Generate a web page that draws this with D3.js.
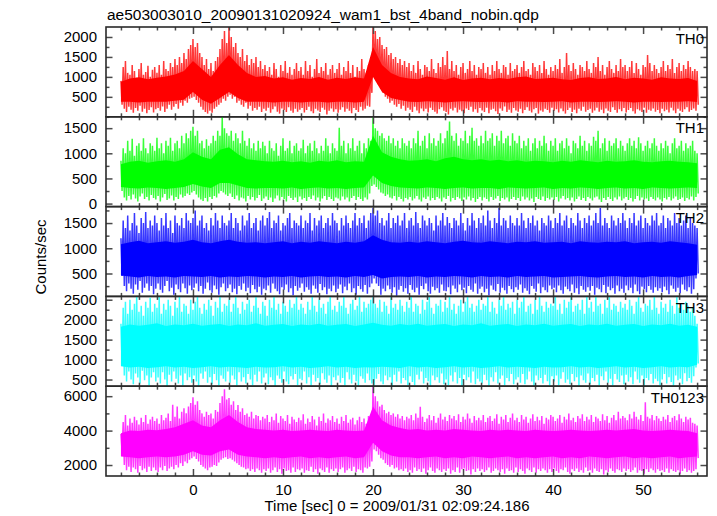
<!DOCTYPE html>
<html><head><meta charset="utf-8">
<script src="https://cdn.jsdelivr.net/npm/d3@7"></script>
<style>
body{margin:0;background:#fff}
svg{display:block}
text{font-family:"Liberation Sans",Arial,Helvetica,sans-serif;fill:#000}
</style>
</head><body>
<svg id="c" width="717" height="516"></svg>
<script>
// ---------------- DATA ----------------
const titleText = "ae503003010_20090131020924_wam1_bst_4band_nobin.qdp";
const xLabel = "Time [sec] 0 = 2009/01/31 02:09:24.186";
const yLabel = "Counts/sec";
const panelNames = ["TH0", "TH1", "TH2", "TH3", "TH0123"];
const panelColors = ["#ff0000", "#00ff00", "#0000ff", "#00ffff", "#ff00ff"];
const xTicks = [0, 10, 20, 30, 40, 50];
const ticksTH0 = [500, 1000, 1500, 2000];
const ticksTH1 = [0, 500, 1000, 1500];
const ticksTH2 = [500, 1000, 1500];
const ticksTH3 = [500, 1000, 1500, 2000, 2500];
const ticksTH0123 = [2000, 4000, 6000];

// upper / lower swing of the light curve, every 0.25 s from t = -8 s to 56 s (257 samples)
const sampleStart = -8, sampleStep = 0.25;
// dense core of the band, every 1 s from t = -8 s to 56 s (65 samples)
const coreStart = -8, coreStep = 1;

const hiTH0 = [
 900,1250,1400,1100,1050,1300,1150,980,1200,1350,1050,1120,1280,1000,1180,1250,
 1100,1300,1050,1400,1200,1150,1350,1250,1450,1300,1500,1350,1600,1450,1700,1800,
 1950,1750,1850,1600,1500,1300,1450,1200,1350,1150,1400,1500,1700,1950,2150,1850,
 2250,2000,1750,1850,1600,1500,1700,1400,1550,1300,1450,1350,1500,1250,1400,1200,
 1300,1150,1250,1050,1350,1200,1000,1300,1150,1400,1100,1250,1050,1200,1350,1150,
 1250,1050,1400,1150,1300,1000,1200,1450,1100,1250,1150,1350,1050,1200,1300,1100,
 1200,1350,1050,1250,1150,1400,1100,1300,1000,1250,1150,1450,1200,1100,1300,1250,
 2250,2150,1950,2000,1800,1700,1750,1550,1600,1450,1500,1350,1450,1300,1400,1250,
 1350,1150,1300,1100,1400,1200,1050,1300,1250,1150,1450,1200,1100,1350,1250,1500,
 1300,1650,1200,1400,1150,1300,1050,1250,1350,1100,1200,1400,1150,1300,1050,1250,
 1200,1350,1100,1250,1050,1300,1150,1400,1200,1100,1300,1250,1050,1350,1150,1200,
 1300,1100,1250,1400,1150,1200,1050,1350,1250,1150,1300,1100,1400,1200,1050,1250,
 1150,1300,1200,1450,1100,1250,1600,1300,1150,1350,1200,1050,1300,1250,1150,1400,
 1200,1100,1350,1250,1500,1150,1300,1050,1250,1400,1200,1100,1300,1150,1450,1250,
 1300,1150,1250,1400,1100,1350,1200,1050,1300,1250,1550,1350,1150,1300,1200,1100,
 1250,1400,1150,1300,1200,1450,1100,1250,1350,1150,1300,1200,1400,1250,1150,1200,
 1150];
const loTH0 = [
 300,200,120,250,180,100,220,150,280,130,200,90,170,240,110,190,
 220,150,260,120,200,300,180,250,320,200,350,280,400,350,450,480,
 500,420,350,250,180,120,80,150,100,200,250,300,350,450,400,500,
 550,450,500,350,400,300,250,350,200,280,150,220,180,250,120,200,
 150,230,100,190,260,130,80,210,170,120,240,150,100,200,130,180,
 220,110,170,250,140,90,200,160,120,230,180,60,150,210,130,190,
 100,180,240,130,200,150,90,220,170,120,250,160,200,280,250,600,
 1000,950,800,700,600,500,450,350,400,300,250,320,200,280,150,230,
 180,120,250,160,90,210,140,200,110,230,170,130,80,190,240,150,
 120,60,200,160,230,110,180,140,90,210,170,250,130,190,100,220,
 160,120,230,90,180,200,140,70,210,150,260,120,180,100,220,160,
 130,200,90,170,240,150,110,190,220,80,160,130,200,170,100,230,
 150,190,110,210,140,80,170,230,120,180,90,200,150,250,130,170,
 200,100,160,230,130,180,90,210,150,120,240,170,100,190,140,220,
 110,170,220,140,80,190,160,120,230,100,180,150,210,130,170,90,
 200,140,180,110,230,160,90,200,150,120,190,240,130,170,210,150,
 300];
const coreHiTH0 = [880,960,990,940,980,1010,1060,1150,1400,1200,1000,1300,1550,1300,1100,1000,1020,
 960,990,930,970,950,1000,930,980,950,990,960,
 1750,1300,1100,1000,
 960,940,1010,970,930,990,920,960,980,940,970,950,990,1010,950,960,980,940,920,970,
 990,950,960,1000,940,980,960,930,990,960,950,970,900];
const coreLoTH0 = [380,380,360,380,380,380,400,430,620,430,330,470,620,470,380,380,380,
 360,380,380,360,380,380,360,380,380,360,380,
 1000,620,470,420,
 380,370,390,380,360,380,390,380,370,380,380,360,390,380,380,370,380,390,360,380,
 380,370,380,390,380,360,380,380,370,380,380,390,370];

const hiTH1 = [
 850,1100,1000,1250,1050,1290,950,1150,1200,1050,1300,1100,1000,1200,1150,1050,
 1310,1100,1200,1000,1250,1150,1310,1050,1200,1250,1100,1350,1200,1400,1300,1450,
 1530,1350,1450,1200,1250,1100,1280,1150,1200,1350,1250,1450,1350,1726,1500,1400,
 1350,1450,1250,1400,1300,1200,1450,1250,1150,1300,1100,1200,1050,1250,1100,1230,
 1150,1000,1250,1100,1050,1200,950,1150,1300,1050,1100,1250,1000,1150,1200,1050,
 1100,1270,1000,1150,1200,1050,1250,1100,1000,1150,1050,1300,1150,1000,1200,1100,
 1050,1510,1150,1250,1000,1200,1100,1300,1050,1150,1250,1000,1200,1100,1300,1250,
 1726,1500,1450,1350,1400,1300,1250,1350,1200,1300,1150,1250,1100,1300,1200,1150,
 1250,1100,1300,1200,1450,1150,1250,1350,1100,1400,1200,1300,1150,1250,1400,1200,
 1300,1450,1630,1350,1250,1400,1150,1300,1250,1450,1200,1350,1510,1250,1300,1150,
 1350,1200,1450,1250,1300,1400,1150,1350,1250,1450,1200,1300,1350,1150,1400,1250,
 1200,1350,1100,1250,1150,1300,1050,1200,1300,1100,1250,1150,1350,1200,1050,1250,
 1150,1300,1050,1200,1250,1100,1300,1150,1000,1250,1200,1100,1350,1150,1250,1050,
 1200,1150,1330,1250,1450,1100,1200,1300,1050,1250,1150,1200,1300,1100,1250,1150,
 1050,1200,1300,1150,1250,1100,1320,1200,1050,1150,1250,1100,1200,1300,1150,1050,
 1200,1100,1250,1150,1000,1200,1300,1100,1150,1250,1050,1200,1100,1150,1250,1050,
 1000];
const loTH1 = [
 250,120,60,150,80,180,100,40,140,200,90,130,60,170,110,80,
 150,40,120,190,70,100,160,60,130,90,180,120,150,200,170,220,
 250,180,120,80,50,110,40,130,90,150,120,200,250,220,180,150,
 200,130,90,160,60,120,100,40,150,80,130,60,110,170,50,100,
 140,70,120,30,100,160,60,130,90,40,150,110,70,120,30,140,
 80,110,50,130,90,160,60,120,40,100,150,70,130,90,50,120,
 100,60,140,80,120,40,110,150,70,130,90,50,120,80,200,350,
 380,330,280,220,200,150,180,120,100,150,60,130,90,40,110,80,
 130,60,100,150,80,40,120,90,140,60,110,70,130,100,40,120,
 90,150,40,110,70,130,100,50,120,80,140,60,110,30,90,130,
 60,120,90,40,130,70,100,150,50,110,80,120,40,90,130,70,
 110,50,140,80,120,60,100,30,130,90,70,140,50,110,80,120,
 70,130,40,100,150,80,110,60,120,40,90,140,70,110,50,130,
 100,60,120,140,80,30,110,70,130,90,50,120,80,140,60,100,
 130,70,110,40,90,150,60,120,80,100,50,130,90,60,120,80,
 40,110,80,130,60,100,140,70,90,120,50,110,80,140,60,130,
 200];
const coreHiTH1 = [780,830,850,810,840,860,830,880,1020,930,880,1070,1120,980,880,860,840,
 830,850,820,840,810,850,830,860,820,840,830,
 1350,1020,930,880,
 850,860,880,840,900,930,880,860,880,850,870,840,860,830,850,840,820,850,830,860,
 840,820,850,830,840,860,830,820,840,850,830,820,800];
const coreLoTH1 = [330,310,300,320,310,290,310,330,390,340,310,410,410,360,310,300,310,
 310,300,320,290,310,320,300,310,290,310,320,
 560,410,350,320,
 310,300,320,310,290,310,320,300,310,310,290,320,310,300,310,320,290,310,300,320,
 310,290,310,320,300,310,290,320,310,300,310,320,310];

const hiTH2 = [
 1200,1550,1400,1650,1350,1500,1700,1450,1300,1600,1500,1720,1400,1550,1450,1650,
 1500,1350,1600,1450,1700,1400,1550,1300,1650,1500,1450,1600,1400,1700,1550,1500,
 1600,1750,1450,1550,1650,1400,1500,1350,1600,1450,1700,1550,1400,1650,1500,1450,
 1550,1700,1400,1600,1500,1350,1650,1450,1550,1700,1400,1500,1600,1350,1550,1650,
 1450,1600,1720,1400,1550,1500,1650,1350,1500,1450,1600,1700,1400,1550,1500,1450,
 1650,1400,1550,1500,1700,1350,1600,1450,1550,1650,1400,1500,1600,1450,1700,1550,
 1500,1350,1600,1450,1650,1500,1400,1550,1700,1450,1600,1500,1650,1400,1550,1700,
 1800,1650,1750,1500,1600,1450,1550,1700,1400,1600,1500,1650,1450,1550,1700,1400,
 1550,1600,1450,1720,1500,1400,1650,1550,1450,1600,1500,1350,1650,1450,1550,1700,
 1450,1620,1500,1400,1600,1550,1450,1700,1500,1350,1600,1450,1700,1550,1400,1600,
 1500,1650,1450,1750,1550,1400,1600,1500,1800,1450,1600,1550,1400,1650,1500,1450,
 1600,1450,1700,1550,1400,1600,1500,1650,1450,1550,1350,1600,1500,1450,1650,1550,
 1400,1600,1500,1700,1450,1550,1650,1400,1600,1500,1450,1700,1550,1400,1600,1500,
 1650,1450,1550,1700,1500,1800,1450,1600,1500,1400,1650,1550,1450,1600,1500,1700,
 1550,1400,1600,1500,1700,1450,1550,1650,1400,1600,1500,1450,1650,1550,1700,1450,
 1500,1650,1400,1600,1550,1450,1700,1500,1600,1450,1550,1650,1400,1600,1500,1450,
 1400];
const loTH2 = [
 450,250,150,300,200,100,280,180,350,120,220,300,160,250,90,200,
 300,180,120,250,350,150,220,80,280,190,130,300,210,100,260,170,
 220,300,150,250,100,200,320,170,120,260,190,80,230,300,150,210,
 280,130,200,90,250,180,300,150,220,110,270,190,130,240,80,200,
 170,260,120,300,200,150,90,230,180,280,130,210,70,250,160,220,
 300,140,230,180,100,260,200,120,290,170,230,90,200,150,260,130,
 200,280,110,240,170,300,130,210,80,250,190,140,270,100,230,300,
 400,300,250,80,200,150,260,190,120,230,60,180,250,140,210,100,
 270,180,130,220,80,250,190,300,150,100,240,170,210,120,280,160,
 150,230,90,260,200,130,280,170,220,110,250,180,140,300,100,200,
 240,130,200,70,260,180,150,290,120,220,170,100,250,190,130,230,
 180,280,120,210,160,90,250,200,140,300,110,230,170,130,260,190,
 220,130,260,170,100,240,190,150,280,120,210,90,250,180,140,230,
 160,250,80,220,190,130,270,110,240,170,210,100,260,150,200,120,
 260,170,220,110,280,150,90,240,190,130,250,180,120,230,160,210,
 130,240,170,90,260,200,140,220,110,280,180,150,230,100,190,400,
 500];
const coreHiTH2 = [1080,1120,1150,1100,1120,1140,1110,1130,1170,1120,1100,1140,1170,1130,1110,1120,1100,
 1120,1140,1100,1130,1110,1140,1120,1100,1130,1110,1140,
 1260,1170,1120,1110,
 1130,1110,1140,1120,1100,1130,1150,1120,1110,1140,1120,1100,1130,1120,1140,1110,1120,1130,1100,1140,
 1120,1110,1130,1120,1140,1100,1120,1130,1110,1140,1120,1100,1070];
const coreLoTH2 = [460,440,420,450,430,440,420,450,440,430,450,420,440,430,450,440,420,
 440,430,450,420,440,450,430,440,420,450,430,
 470,400,430,440,
 430,450,420,440,430,450,440,420,450,430,440,420,450,430,440,450,420,430,440,450,
 430,420,440,450,430,440,420,450,430,440,420,450,470];

const hiTH3 = [
 1900,2300,2450,2150,2500,2250,2400,2583,2200,2350,2100,2450,2300,2550,2200,2400,
 2300,2583,2150,2400,2250,2500,2350,2100,2450,2300,2583,2200,2400,2350,2150,2500,
 2250,2450,2583,2300,2150,2400,2250,2500,2350,2100,2450,2300,2583,2200,2400,2350,
 2500,2200,2400,2583,2300,2150,2450,2250,2400,2500,2200,2350,2583,2300,2150,2450,
 2350,2100,2500,2300,2583,2250,2400,2150,2450,2350,2200,2500,2300,2400,2583,2250,
 2400,2300,2150,2450,2250,2583,2350,2200,2500,2300,2400,2150,2450,2583,2250,2350,
 2200,2450,2350,2583,2300,2150,2400,2500,2250,2350,2583,2200,2450,2300,2400,2500,
 2583,2400,2300,2500,2200,2450,2350,2150,2583,2300,2400,2250,2500,2350,2200,2450,
 2300,2583,2200,2400,2350,2150,2500,2250,2450,2583,2300,2150,2400,2350,2500,2200,
 2450,2300,2583,2250,2400,2150,2350,2500,2200,2450,2583,2300,2400,2200,2350,2500,
 2250,2400,2350,2583,2200,2450,2300,2150,2500,2350,2583,2250,2400,2300,2450,2150,
 2500,2300,2450,2583,2200,2350,2400,2150,2500,2250,2583,2350,2200,2450,2300,2400,
 2350,2583,2250,2400,2150,2500,2300,2450,2583,2200,2350,2400,2250,2500,2150,2583,
 2300,2450,2200,2583,2350,2400,2150,2500,2300,2583,2250,2400,2350,2200,2450,2300,
 2400,2250,2500,2350,2150,2450,2583,2300,2200,2400,2350,2500,2250,2583,2300,2150,
 2450,2300,2400,2200,2500,2350,2150,2583,2300,2400,2250,2450,2350,2200,2300,2100,
 1900];
const loTH3 = [
 900,600,450,700,500,380,650,550,400,720,480,600,350,550,680,450,
 550,400,680,500,340,620,450,700,520,400,600,350,650,480,560,420,
 600,450,340,650,520,700,420,560,380,640,480,350,600,520,450,700,
 420,600,500,350,680,450,560,400,640,500,360,620,450,700,400,550,
 650,380,560,480,340,600,520,420,700,450,380,580,500,640,360,520,
 480,700,400,560,350,620,450,540,380,660,500,420,600,340,560,480,
 600,420,540,360,680,500,400,620,460,340,580,520,420,650,480,400,
 350,520,640,450,380,600,480,560,340,620,450,700,400,540,480,360,
 580,440,360,620,500,700,400,540,460,340,600,480,560,420,650,380,
 500,360,600,450,680,400,540,340,620,480,560,420,700,380,520,450,
 400,620,480,340,560,450,680,400,520,600,360,540,460,640,380,500,
 560,420,640,380,500,700,450,340,600,480,540,400,620,460,350,580,
 450,600,360,520,680,420,500,380,640,460,560,340,600,480,420,650,
 380,540,460,620,350,580,480,700,420,520,360,640,500,440,600,380,
 620,450,560,380,700,500,420,600,340,540,480,640,400,520,460,360,
 500,640,400,560,440,350,600,480,520,380,660,460,540,420,580,800,
 900];
const coreHiTH3 = [1820,1880,1850,1870,1910,1840,1880,1860,1900,1850,1870,1890,1840,1880,1860,1910,1850,
 1870,1890,1840,1880,1860,1900,1850,1870,1890,1840,1880,
 1920,1870,1850,1890,
 1860,1900,1850,1870,1890,1840,1880,1860,1910,1850,1870,1890,1840,1880,1860,1900,1850,1870,1890,1840,
 1880,1860,1900,1850,1870,1890,1840,1880,1860,1900,1850,1870,1820];
const coreLoTH3 = [830,800,820,790,810,830,800,820,790,810,830,800,820,810,790,820,800,
 810,830,800,820,790,810,830,800,820,790,810,
 800,820,810,790,
 830,800,820,790,810,830,800,820,790,810,830,800,820,810,790,820,800,810,830,800,
 820,790,810,830,800,820,790,810,830,800,820,810,870];

const hiTH0123 = [
 3800,4500,4900,4300,4700,4450,4800,4600,4350,4750,4500,4900,4400,4650,4800,4550,
 4700,4400,4900,4600,4750,5000,4550,5500,4800,5400,4700,5100,5300,5000,5400,5600,
 5940,5500,5700,5200,5000,4800,5100,4900,5000,4700,5200,5100,5600,6000,6400,5800,
 5900,5500,5700,5200,5480,5100,5300,4900,5000,4800,5100,4700,4900,4850,4600,4800,
 4700,4900,4500,4800,4600,5000,4450,4850,4700,4550,4900,4400,4800,4650,4500,4750,
 4600,4950,4400,4700,4500,4850,4650,4300,4800,4550,5000,4450,4700,4600,4850,4500,
 4700,4400,4800,4550,4900,4450,4650,4750,4350,4600,4800,4500,4700,4400,4850,4600,
 6580,6000,5700,5400,5500,5200,5000,5100,4900,5000,4800,4950,4700,4850,4600,4800,
 4700,4900,4600,5000,4750,5380,4800,4500,4700,4900,4600,4850,4450,4750,5000,4650,
 4800,4550,4900,4700,4850,4600,4950,4500,4800,4650,5000,4700,4450,4850,4600,4750,
 4600,4900,4500,4750,4850,4550,4700,4950,4400,4800,4650,4900,4500,4750,5000,4600,
 4750,4500,4900,4650,4800,4450,4700,4950,4550,4800,4600,4850,4400,4750,4650,4900,
 4800,4550,4700,4900,4450,4800,4650,5000,4600,4750,4500,4850,4700,4950,4550,4800,
 4650,4900,4500,4800,4700,4550,4950,4600,4850,4450,4750,4900,4600,5100,4700,4850,
 4750,4600,4950,4700,5100,4800,4650,4900,4550,5650,4800,4700,4900,4600,4850,4700,
 4550,4800,4650,4900,4500,4750,4850,4600,4950,4700,4500,4800,4650,4750,4450,4400,
 4300];
const loTH0123 = [
 2800,2000,1700,1900,1600,1850,1750,1550,1950,1700,1800,1600,1900,1650,1850,1700,
 1600,1850,1700,1950,1650,1800,1900,1750,2000,1850,2100,1950,2200,2100,2300,2400,
 2500,2350,2200,2000,1900,1800,1700,1850,1900,2000,1950,2150,2300,2400,2450,2350,
 2400,2300,2200,2100,2000,1900,1850,1750,1800,1650,1750,1600,1800,1700,1550,1750,
 1650,1800,1550,1700,1850,1600,1750,1500,1800,1650,1700,1550,1850,1600,1750,1700,
 1800,1550,1700,1650,1900,1600,1750,1500,1800,1700,1600,1850,1550,1750,1650,1800,
 1600,1750,1850,1550,1700,1800,1650,1900,1600,1750,1700,1550,1850,1800,1900,2200,
 2900,2800,2600,2400,2300,2100,2000,1900,2000,1800,1850,1700,1750,1650,1800,1600,
 1700,1550,1850,1650,1750,1600,1800,1500,1700,1850,1650,1550,1800,1700,1600,1750,
 1650,1800,1500,1700,1600,1850,1550,1750,1800,1650,1700,1450,1750,1600,1800,1650,
 1750,1600,1700,1850,1550,1650,1800,1700,1600,1750,1500,1800,1650,1700,1550,1850,
 1600,1750,1650,1500,1800,1700,1600,1850,1550,1750,1650,1800,1700,1550,1750,1600,
 1800,1650,1550,1750,1700,1850,1600,1500,1750,1650,1800,1600,1700,1550,1850,1650,
 1700,1550,1800,1650,1600,1750,1450,1700,1600,1800,1650,1550,1750,1700,1600,1800,
 1650,1750,1600,1700,1850,1550,1700,1650,1500,1750,1600,1800,1700,1550,1750,1650,
 1700,1600,1800,1550,1750,1650,1600,1700,1500,1650,1800,1600,1700,1550,1650,1750,
 2400];
const coreHiTH0123 = [3850,4000,3980,4050,4020,4100,4200,4400,4600,4300,4200,4600,4900,4500,4200,4100,4050,
 4000,4050,3970,4000,4050,4000,3970,4050,4000,3970,4000,
 5400,4600,4300,4150,
 4050,4100,4000,4050,4000,4100,4050,4000,3970,4050,4000,4050,4000,3970,4050,4000,3970,4000,4050,4000,
 3970,4000,4050,4000,4050,4100,4000,3970,4000,4050,4000,3970,3850];
const coreLoTH0123 = [2500,2450,2400,2450,2500,2450,2500,2600,2800,2600,2550,2800,2900,2600,2500,2450,2400,
 2450,2400,2450,2500,2400,2450,2400,2450,2500,2400,2450,
 3300,2800,2550,2450,
 2450,2400,2450,2500,2400,2450,2400,2500,2450,2400,2450,2500,2400,2450,2400,2450,2500,2400,2450,2400,
 2500,2450,2400,2450,2500,2400,2450,2400,2450,2500,2400,2450,2500];

// ---------------- CHART ----------------
const svg = d3.select("#c");
const L = 106, R = 707, T = 27, B = 476;
const PH = (B - T) / 5;
const x = d3.scaleLinear().domain([-9.66, 57.1]).range([L, R]);
const FONT = 15;

const panels = [
  {domain: [0, 2250],    ticks: ticksTH0,    minor: 250,  hi: hiTH0,    lo: loTH0,    cHi: coreHiTH0,    cLo: coreLoTH0},
  {domain: [-60, 1726],  ticks: ticksTH1,    minor: 250,  hi: hiTH1,    lo: loTH1,    cHi: coreHiTH1,    cLo: coreLoTH1},
  {domain: [46, 1826],   ticks: ticksTH2,    minor: 250,  hi: hiTH2,    lo: loTH2,    cHi: coreHiTH2,    cLo: coreLoTH2},
  {domain: [333, 2583],  ticks: ticksTH3,    minor: 250,  hi: hiTH3,    lo: loTH3,    cHi: coreHiTH3,    cLo: coreLoTH3},
  {domain: [1362, 6580], ticks: ticksTH0123, minor: 1000, hi: hiTH0123, lo: loTH0123, cHi: coreHiTH0123, cLo: coreLoTH0123}
];

const defs = svg.append("defs");
const tickColor = "#4a4a4a";

function styleAxis(g) {
  g.select(".domain").remove();
  g.selectAll("line").attr("stroke", tickColor).attr("stroke-width", 1.5);
  g.attr("font-family", null).attr("font-size", FONT);
  g.selectAll("text").attr("fill", "#000");
}

const xMinor = d3.range(-8, 57, 2).filter(v => v % 10 !== 0);

panels.forEach((p, k) => {
  const y0 = T + k * PH, y1 = y0 + PH;
  const y = d3.scaleLinear().domain(p.domain).range([y1, y0]);
  const color = panelColors[k];

  defs.append("clipPath").attr("id", "clip" + k)
    .append("rect").attr("x", L).attr("y", y0).attr("width", R - L).attr("height", PH);

  const g = svg.append("g").attr("clip-path", `url(#clip${k})`);

  // light curve swing between upper and lower values of each sample
  const pts = [];
  p.hi.forEach((v, i) => {
    const t = sampleStart + i * sampleStep;
    pts.push([t, v]);
    pts.push([t + sampleStep / 2, p.lo[i]]);
  });
  g.append("path").datum(pts)
    .attr("d", d3.line().x(d => x(d[0])).y(d => y(d[1])))
    .attr("fill", "none").attr("stroke", color)
    .attr("stroke-width", 1.5).attr("stroke-opacity", 0.78);

  // dense core of the band
  const core = p.cHi.map((v, i) => [coreStart + i * coreStep, p.cLo[i], v]);
  g.append("path").datum(core)
    .attr("d", d3.area().x(d => x(d[0])).y0(d => y(d[1])).y1(d => y(d[2])))
    .attr("fill", color);

  // y axes (ticks inward)
  const minors = d3.range(Math.ceil(p.domain[0] / p.minor) * p.minor, p.domain[1], p.minor)
    .filter(v => !p.ticks.includes(v));
  styleAxis(svg.append("g").attr("transform", `translate(${L},0)`)
    .call(d3.axisLeft(y).tickValues(p.ticks).tickSize(-6.5).tickPadding(9).tickFormat(d3.format("d"))));
  styleAxis(svg.append("g").attr("transform", `translate(${L},0)`)
    .call(d3.axisLeft(y).tickValues(minors).tickSize(-3.5).tickFormat("")));
  styleAxis(svg.append("g").attr("transform", `translate(${R},0)`)
    .call(d3.axisRight(y).tickValues(p.ticks).tickSize(-6.5).tickFormat("")));
  styleAxis(svg.append("g").attr("transform", `translate(${R},0)`)
    .call(d3.axisRight(y).tickValues(minors).tickSize(-3.5).tickFormat("")));

  // x ticks at top and bottom of every panel (inward)
  [[y0, d3.axisTop], [y1, d3.axisBottom]].forEach(([yy, ax]) => {
    styleAxis(svg.append("g").attr("transform", `translate(0,${yy})`)
      .call(ax(x).tickValues(xTicks).tickSize(-7).tickPadding(8.4)
        .tickFormat((k === 4 && ax === d3.axisBottom) ? d3.format("d") : "")));
    styleAxis(svg.append("g").attr("transform", `translate(0,${yy})`)
      .call(ax(x).tickValues(xMinor).tickSize(-3.5).tickFormat("")));
  });

  // frame
  svg.append("rect").attr("x", L).attr("y", y0).attr("width", R - L).attr("height", PH)
    .attr("fill", "none").attr("stroke", "#2a2a2a").attr("stroke-width", 1.6);

  // panel name
  svg.append("text").attr("x", 704).attr("y", y0 + 16.5)
    .attr("text-anchor", "end").attr("font-size", FONT).text(panelNames[k]);
});

svg.append("text").attr("x", 107).attr("y", 20).attr("font-size", 15.5).text(titleText);
svg.append("text").attr("x", 397).attr("y", 511).attr("text-anchor", "middle")
  .attr("font-size", FONT).text(xLabel);
svg.append("text").attr("transform", "translate(46,257) rotate(-90)")
  .attr("text-anchor", "middle").attr("font-size", FONT).text(yLabel);
</script>
</body></html>
